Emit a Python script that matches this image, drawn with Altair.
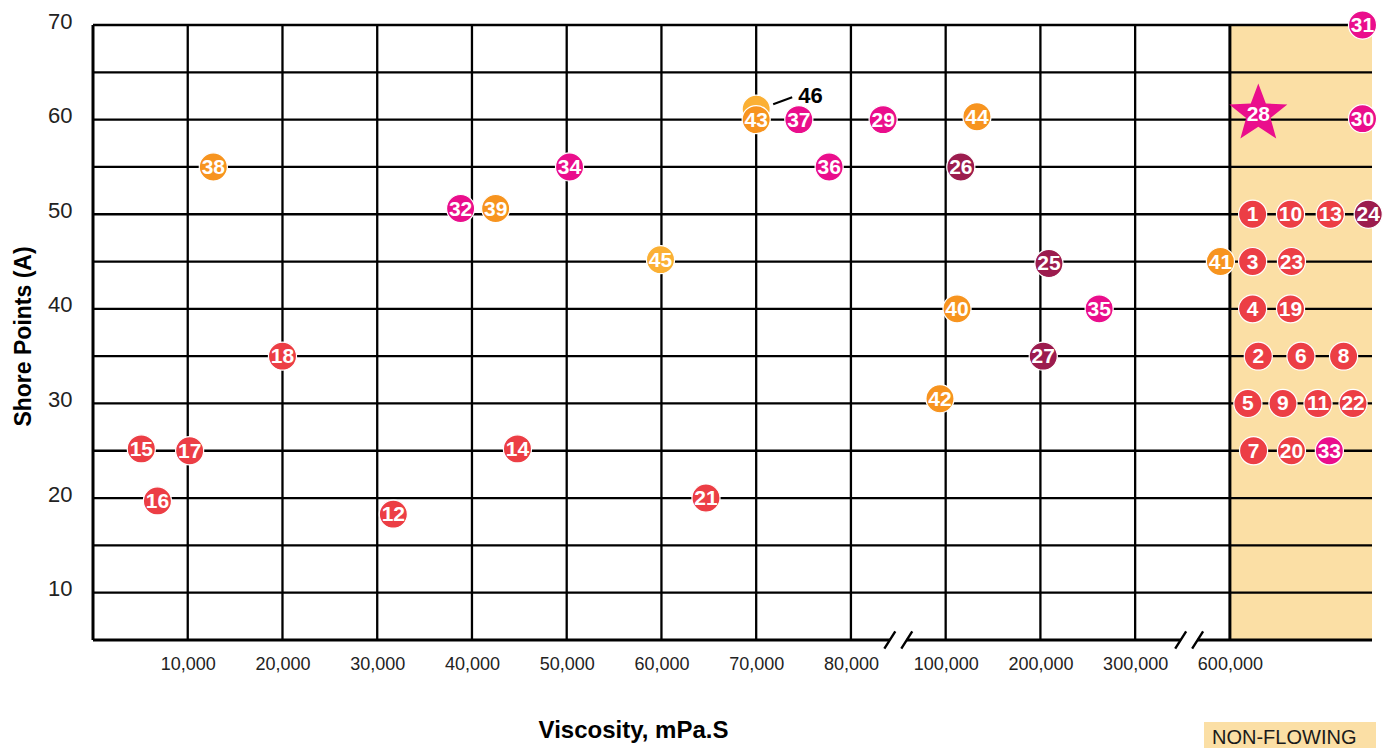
import altair as alt
import pandas as pd

# ---------------- data ----------------
ids = list(range(1, 47))
# position along the (broken) viscosity axis, in tick units (tick k = k-th label)
x_pos = [12.24, 12.30, 12.24, 12.24, 12.19, 12.75, 12.25, 13.20, 12.56, 12.64,
         12.93, 3.17, 13.06, 4.48, 0.51, 0.68, 1.02, 2.00, 12.64, 12.65,
         6.47, 13.30, 12.65, 13.46, 10.09, 9.16, 10.03, 12.30, 8.34, 13.40,
         13.40, 3.88, 13.05, 5.03, 10.62, 7.77, 7.45, 1.27, 4.25, 9.12,
         11.90, 8.94, 7.00, 9.33, 5.99, 7.00]
shore = [50, 35, 45, 40, 30, 35, 25, 35, 30, 50,
         30, 18.3, 50, 25.2, 25.2, 19.7, 25, 35, 40, 25,
         20, 30, 45, 50, 44.8, 55, 35, 60.6, 60, 60.1,
         70, 50.6, 25, 55, 40, 55, 60, 55, 50.6, 40,
         45, 30.5, 60, 60.3, 45.2, 61.1]
groups = (["red"] * 23 + ["maroon"] * 4 + ["pink"] * 10 +
          ["orange"] * 7 + ["yellow"] * 2)

tick_labels = ["10,000", "20,000", "30,000", "40,000", "50,000", "60,000",
               "70,000", "80,000", "100,000", "200,000", "300,000", "600,000"]
tick_pos = list(range(1, 13))
y_ticks = [10, 20, 30, 40, 50, 60, 70]
y_grid = [10, 15, 20, 25, 30, 35, 40, 45, 50, 55, 60, 65, 70]
x_grid = tick_pos[:-1]
nonflow_start = 12
x_max = 13.5
y_min, y_max = 5, 70
axis_breaks = [8.5, 11.57]
star_id = 28
outside_id = 46

group_names = ["red", "maroon", "pink", "orange", "yellow"]
group_colors = ["#EC3E45", "#9C1C4E", "#EA0E8C", "#F7941F", "#FBB034"]
BEIGE = "#FBDFA5"
FONT = "Liberation Sans"

df = pd.DataFrame({"id": ids, "x": x_pos, "y": shore, "grp": groups})

# ---------------- scales / axes ----------------
xs = alt.Scale(domain=[0, x_max], nice=False, zero=False)
ys = alt.Scale(domain=[y_min, y_max], nice=False, zero=False)
label_expr = "[" + ",".join(f"'{l}'" for l in tick_labels) + "][datum.value - 1]"

x_axis = alt.Axis(values=tick_pos, labelExpr=label_expr, domain=False, ticks=False,
                  tickSize=0, grid=False, labelFont=FONT, labelFontSize=18,
                  labelColor="#222222", labelPadding=15, labelOverlap=False,
                  labelFlush=False, title="Viscosity, mPa.S", titleFont=FONT,
                  titleFontSize=24, titleFontWeight="bold", titleColor="#000000",
                  titleX=540, titleY=97, titleAlign="center",
                  titleBaseline="alphabetic")
y_axis = alt.Axis(values=y_ticks, domain=False, ticks=False, tickSize=0, grid=False,
                  labelFont=FONT, labelFontSize=22, labelColor="#222222",
                  labelPadding=21, labelOffset=-4, labelOverlap=False,
                  labelFlush=False, title="Shore Points (A)", titleFont=FONT,
                  titleFontSize=23, titleFontWeight="bold", titleColor="#000000",
                  titleAngle=270, titleX=-63, titleY=311, titleAlign="center",
                  titleBaseline="alphabetic")


def X(f):
    return alt.X(f, type="quantitative", scale=xs, axis=x_axis)


def Y(f):
    return alt.Y(f, type="quantitative", scale=ys, axis=y_axis)


color = alt.Color("grp:N", scale=alt.Scale(domain=group_names, range=group_colors),
                  legend=None)

# ---------------- layers ----------------
beige = alt.Chart(pd.DataFrame({"x0": [nonflow_start], "x1": [x_max],
                                "y0": [y_min], "y1": [y_max]})).mark_rect(
    color=BEIGE).encode(x=X("x0"), x2="x1", y=Y("y0"), y2="y1")

hgrid = alt.Chart(pd.DataFrame({"gy": y_grid})).mark_rule(
    color="black", strokeWidth=2.3).encode(y=Y("gy"))
vgrid = alt.Chart(pd.DataFrame({"gx": x_grid})).mark_rule(
    color="black", strokeWidth=2.3).encode(x=X("gx"))
nfline = alt.Chart(pd.DataFrame({"gx": [nonflow_start]})).mark_rule(
    color="black", strokeWidth=3).encode(x=X("gx"))
bottom = alt.Chart(pd.DataFrame({"gy": [y_min]})).mark_rule(
    color="black", strokeWidth=3).encode(y=Y("gy"))
left = alt.Chart(pd.DataFrame({"gx": [0]})).mark_rule(
    color="black", strokeWidth=3).encode(x=X("gx"))

brk = pd.DataFrame({"bx": axis_breaks, "by": [y_min] * len(axis_breaks)})
gap = alt.Chart(brk).mark_point(
    shape="M-0.56,-0.22H0.56V0.22H-0.56Z", size=900, filled=True,
    fill="white", stroke=None, opacity=1).encode(x=X("bx"), y=Y("by"))
slashes = alt.Chart(brk).mark_point(
    shape="M-0.93,0.57L-0.2,-0.57M0.2,0.57L0.93,-0.57", size=900, filled=False,
    stroke="black", strokeWidth=2.4, opacity=1).encode(x=X("bx"), y=Y("by"))

base = alt.Chart(df).transform_calculate(
    draw=f"datum.id == {outside_id} ? 0 : datum.id")

circles = base.transform_filter(f"datum.id != {star_id}").mark_circle(
    size=790, opacity=1, stroke="white", strokeWidth=1.2).encode(
    x=X("x"), y=Y("y"), color=color, order=alt.Order("draw:Q"))

star_path = ("M0,-1L0.247,-0.34L0.951,-0.309L0.399,0.13L0.588,0.809L0,0.42"
             "L-0.588,0.809L-0.399,0.13L-0.951,-0.309L-0.247,-0.34Z")
star = base.transform_filter(f"datum.id == {star_id}").mark_point(
    shape=star_path, size=3721, filled=True, opacity=1).encode(
    x=X("x"), y=Y("y"), color=color)

labels = base.transform_filter(f"datum.id != {outside_id}").mark_text(
    font=FONT, fontSize=21, fontWeight="bold", color="white",
    baseline="middle", dy=1).encode(
    x=X("x"), y=Y("y"), text=alt.Text("id:Q", format="d"),
    order=alt.Order("draw:Q"))

leader = base.transform_filter(f"datum.id == {outside_id}").mark_rule(
    color="black", strokeWidth=2, xOffset=17, x2Offset=36, yOffset=-5,
    y2Offset=-12).encode(x=X("x"), x2="x", y=Y("y"), y2="y")
out_label = base.transform_filter(f"datum.id == {outside_id}").mark_text(
    font=FONT, fontSize=22, fontWeight="bold", color="black", align="left",
    baseline="middle", dx=42, dy=-13).encode(
    x=X("x"), y=Y("y"), text=alt.Text("id:Q", format="d"))

legend_df = pd.DataFrame({"t": ["NON-FLOWING"]})
legend_box = alt.Chart(legend_df).mark_rect(color=BEIGE).encode(
    x=alt.value(1111), x2=alt.value(1283), y=alt.value(697), y2=alt.value(740))
legend_txt = alt.Chart(legend_df).mark_text(
    font=FONT, fontSize=20, color="#1a1a1a", align="left",
    baseline="alphabetic").encode(x=alt.value(1119), y=alt.value(719), text="t:N")

chart = alt.layer(
    beige, hgrid, vgrid, nfline, bottom, left, gap, slashes,
    circles, star, labels, leader, out_label, legend_box, legend_txt
).properties(
    width=1279, height=615,
    autosize=alt.AutoSizeParams(type="none"),
    padding={"left": 85, "top": 17, "right": 15, "bottom": 108},
    background="white",
).configure_view(stroke=None)

chart.save("out.html", embed_options={"renderer": "svg", "actions": False})
